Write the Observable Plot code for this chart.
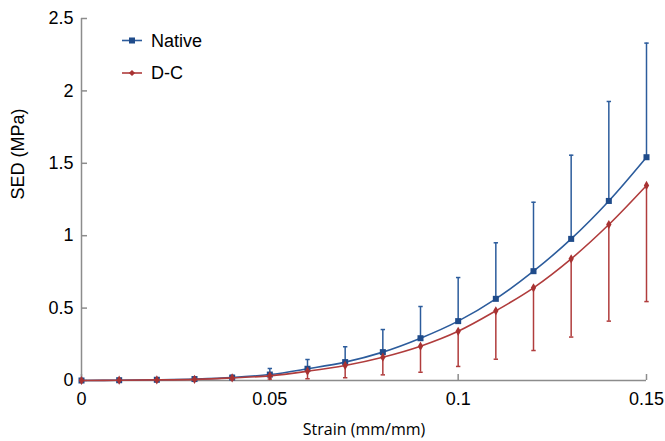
<!DOCTYPE html>
<html>
<head>
<meta charset="utf-8">
<script src="https://cdn.jsdelivr.net/npm/d3@7"></script>
<script src="https://cdn.jsdelivr.net/npm/@observablehq/plot@0.6"></script>
<style>
  body { margin: 0; background: #fff; }
  #wrap { position: relative; width: 665px; height: 441px; }
  #legend { position: absolute; left: 0; top: 0; }
</style>
</head>
<body>
<div id="wrap"></div>
<script>
const strain = [0, 0.01, 0.02, 0.03, 0.04, 0.05, 0.06, 0.07, 0.08, 0.09, 0.10, 0.11, 0.12, 0.13, 0.14, 0.15];
const nativeMean = [0, 0.002, 0.005, 0.01, 0.02, 0.041, 0.081, 0.127, 0.196, 0.292, 0.41, 0.564, 0.755, 0.978, 1.24, 1.542];
const nativeSD = [0, 0.002, 0.004, 0.008, 0.015, 0.042, 0.064, 0.106, 0.156, 0.219, 0.301, 0.387, 0.476, 0.578, 0.687, 0.788];
const dcMean = [0, 0.002, 0.004, 0.008, 0.018, 0.032, 0.064, 0.104, 0.161, 0.237, 0.34, 0.481, 0.64, 0.84, 1.077, 1.347];
const dcSD = [0, 0.001, 0.003, 0.006, 0.012, 0.022, 0.052, 0.085, 0.122, 0.18, 0.243, 0.334, 0.433, 0.54, 0.667, 0.802];
const seriesNames = ["Native", "D-C"];
const xTicks = [0, 0.05, 0.1, 0.15];
const yTicks = [0, 0.5, 1, 1.5, 2, 2.5];
const xLabel = "Strain (mm/mm)";
const yLabel = "SED (MPa)";

const blue = "#2c5c9c", blueDark = "#1f4b8a";
const red = "#b03c3c", redDark = "#a83232";
const axisGray = "#8c8c8c";

const nativeRows = strain.map((x, i) => ({x, y: nativeMean[i], lo: nativeMean[i], hi: nativeMean[i] + nativeSD[i]}));
const dcRows = strain.map((x, i) => ({x, y: dcMean[i], lo: dcMean[i] - dcSD[i], hi: dcMean[i]}));

const capSymbol = {
  draw(ctx, size) {
    const w = Math.sqrt(size / Math.PI);
    ctx.moveTo(-w, 0);
    ctx.lineTo(w, 0);
  }
};

const fmt = d => String(d);

const chart = Plot.plot({
  width: 665,
  height: 441,
  marginLeft: 81,
  marginRight: 19,
  marginTop: 18,
  marginBottom: 61,
  style: {fontFamily: "'Liberation Sans', Arial, sans-serif", fontSize: "18px", color: "#000", background: "#fff"},
  x: {domain: [0, 0.15]},
  y: {domain: [0, 2.5]},
  marks: [
    Plot.axisX({ticks: xTicks, tickFormat: fmt, tickSize: -6, tickPadding: 18, stroke: axisGray, fill: "#000", strokeWidth: 1.5, label: null}),
    Plot.axisY({ticks: yTicks, tickFormat: fmt, tickSize: -6, tickPadding: 14, stroke: axisGray, fill: "#000", strokeWidth: 1.5, label: null}),
    Plot.ruleY([0], {stroke: axisGray, strokeWidth: 1.5}),
    Plot.ruleX([0], {stroke: axisGray, strokeWidth: 1.5}),
    // Native
    Plot.ruleX(nativeRows, {x: "x", y1: "lo", y2: "hi", stroke: blue, strokeWidth: 1.5}),
    Plot.dot(nativeRows, {x: "x", y: "hi", symbol: capSymbol, r: 2.2, stroke: blue, strokeWidth: 1.5}),
    Plot.line(nativeRows, {x: "x", y: "y", stroke: blue, strokeWidth: 1.6, curve: "catmull-rom"}),
    Plot.dot(nativeRows, {x: "x", y: "y", symbol: "square", r: 3.4, fill: blueDark, stroke: null}),
    // D-C
    Plot.ruleX(dcRows, {x: "x", y1: "lo", y2: "hi", stroke: red, strokeWidth: 1.5}),
    Plot.dot(dcRows, {x: "x", y: "lo", symbol: capSymbol, r: 2.2, stroke: red, strokeWidth: 1.5}),
    Plot.line(dcRows, {x: "x", y: "y", stroke: red, strokeWidth: 1.6, curve: "catmull-rom"}),
    Plot.dot(dcRows, {x: "x", y: "y", symbol: "diamond", r: 2.8, fill: redDark, stroke: null}),
    // axis titles
    Plot.text([xLabel], {frameAnchor: "bottom", dy: 54, fontFamily: "'Open Sans', sans-serif", fontSize: 16, fill: "#000"}),
    Plot.text([yLabel], {frameAnchor: "left", dx: -63, rotate: -90, fontSize: 18, fill: "#000"})
  ]
});

const wrap = document.getElementById("wrap");
wrap.appendChild(chart);

// Legend overlay
const legendColors = [[blue, blueDark, "square"], [red, redDark, "diamond"]];
const leg = d3.select(wrap).append("svg")
  .attr("id", "legend")
  .attr("width", 665).attr("height", 441)
  .style("pointer-events", "none");
seriesNames.forEach((name, i) => {
  const cy = 40.5 + i * 32.5;
  const [lc, mc, sym] = legendColors[i];
  const g = leg.append("g").attr("transform", `translate(0,${cy})`);
  g.append("line").attr("x1", 122).attr("x2", 142).attr("y1", 0).attr("y2", 0)
    .attr("stroke", lc).attr("stroke-width", 1.6);
  const symbol = sym === "square" ? d3.symbolSquare : d3.symbolDiamond2;
  const size = sym === "square" ? Math.PI * 3.4 * 3.4 : Math.PI * 2.8 * 2.8;
  g.append("path").attr("transform", "translate(132,0)")
    .attr("d", d3.symbol(symbol, size)()).attr("fill", mc);
  g.append("text").attr("x", 151).attr("y", 0).attr("dy", "0.35em")
    .attr("font-family", "'Liberation Sans', Arial, sans-serif").attr("font-size", 18)
    .attr("fill", "#000").text(name);
});
</script>
</body>
</html>
